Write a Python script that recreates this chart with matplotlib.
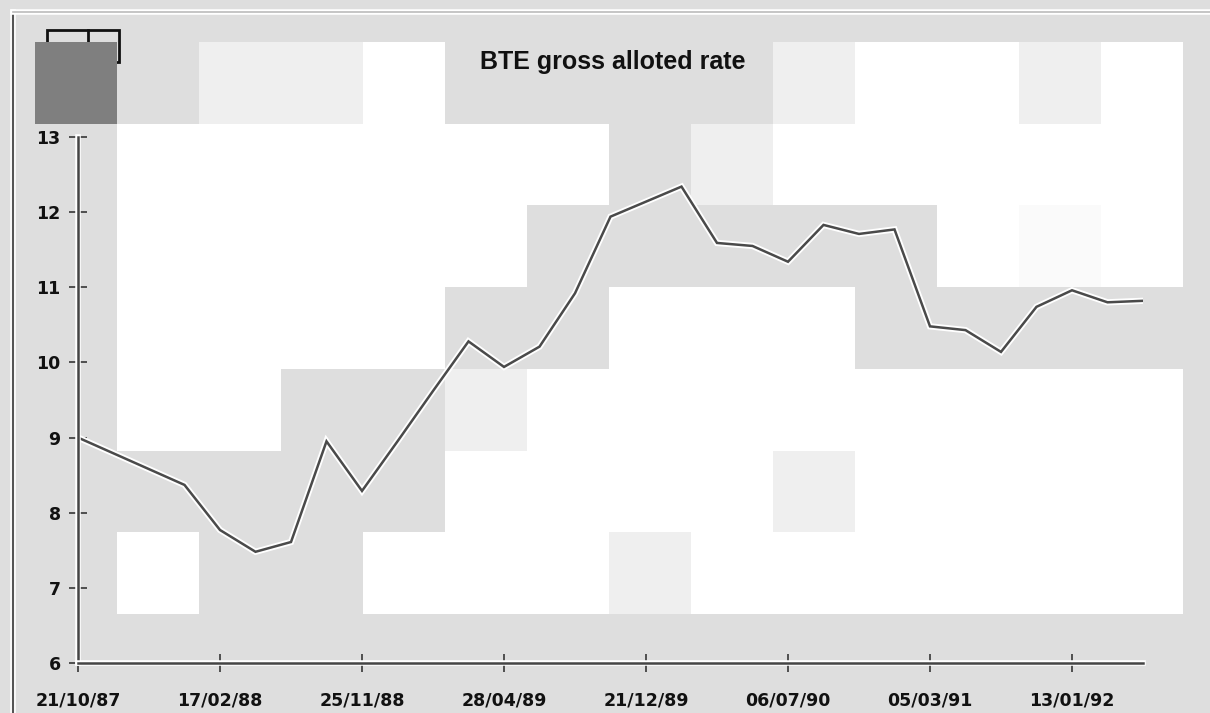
import matplotlib
matplotlib.use("Agg")
import matplotlib.pyplot as plt
import matplotlib.patheffects as pe
from matplotlib.patches import Rectangle

rates = [9.00, 8.79, 8.58, 8.37, 7.77, 7.48, 7.61, 8.95, 8.29, 8.95,
         9.62, 10.28, 9.94, 10.21, 10.92, 11.94, 12.14, 12.34, 11.59, 11.55,
         11.34, 11.83, 11.71, 11.77, 10.48, 10.43, 10.14, 10.74, 10.96, 10.80,
         10.82]
date_labels = ["21/10/87", "17/02/88", "25/11/88", "28/04/89",
               "21/12/89", "06/07/90", "05/03/91", "13/01/92"]
label_every = 4
y_ticks = [6, 7, 8, 9, 10, 11, 12, 13]
title = "BTE gross alloted rate"

# background mosaic of the scan (D dark, G gray, L light, F faint, W white)
tile_rows = ["DGLLWGGGGLWWLW",
             "GWWWWWWGLWWWWW",
             "GWWWWWGGGGGWFW",
             "GWWWWGGWWWGGGG",
             "GWWGGLWWWWWWWW",
             "GGGGGWWWWLWWWW",
             "GWGGWWWLWWWWWW"]
tile_colors = {"D": "#7f7f7f", "G": "#dedede", "L": "#efefef",
               "F": "#fafafa", "W": "#ffffff"}

W, H = 1210, 713
fig = plt.figure(figsize=(W / 100, H / 100), dpi=100)
fig.patch.set_facecolor("#dedede")

bg = fig.add_axes([0, 0, 1, 1])
bg.set_xlim(0, W)
bg.set_ylim(H, 0)
bg.axis("off")
x0, y0, tw, th = 35, 42, 82, 81.7
for r, row in enumerate(tile_rows):
    for c, ch in enumerate(row):
        bg.add_patch(Rectangle((x0 + c * tw, y0 + r * th), tw, th,
                               facecolor=tile_colors[ch], edgecolor="none",
                               zorder=2 if ch == "D" else 1))
# logo box partly hidden by the dark tile
bg.add_patch(Rectangle((47, 30), 72, 32, facecolor="none", edgecolor="#111",
                       lw=2, zorder=1.5))
bg.plot([88, 88], [30, 62], color="#111", lw=2, zorder=1.5)
# frame lines of the scan
halo = [pe.Stroke(linewidth=4, foreground="white"), pe.Normal()]
bg.plot([13, 13], [12, H], color="#555", lw=1.5, path_effects=halo)
bg.plot([13, W], [12, 12], color="#bbb", lw=1.2, path_effects=halo)

fig.text(613 / W, 1 - 62 / H, title, ha="center", va="center",
         fontsize=18, fontweight="bold", family="Liberation Sans", color="#111")

ax = fig.add_axes([78 / W, 1 - 663 / H, (1143 - 78) / W, (663 - 137) / H])
ax.patch.set_alpha(0)
xs = list(range(len(rates)))
ax.plot(xs, rates, color="#4a4a4a", lw=1.8, solid_joinstyle="miter",
        path_effects=[pe.Stroke(linewidth=4.5, foreground="white"), pe.Normal()])
ax.set_xlim(0, len(rates) - 1)
ax.set_ylim(6, 13)
for s in ["top", "right"]:
    ax.spines[s].set_visible(False)
for s in ["left", "bottom"]:
    ax.spines[s].set_color("#444")
    ax.spines[s].set_linewidth(1.8)
    ax.spines[s].set_path_effects([pe.Stroke(linewidth=4, foreground="white"),
                                   pe.Normal()])
ax.set_yticks(y_ticks)
ax.set_yticklabels([str(v) for v in y_ticks])
ax.set_xticks(xs[::label_every])
ax.set_xticklabels(date_labels)
ax.tick_params(axis="both", direction="inout", length=13, width=1.3,
               colors="#444", labelcolor="#111")
ax.tick_params(axis="y", pad=6)
ax.tick_params(axis="x", pad=14)
for lab in ax.get_xticklabels() + ax.get_yticklabels():
    lab.set_fontweight("bold")
    lab.set_fontsize(12.5)
    lab.set_family("DejaVu Sans")

fig.savefig("out.png", dpi=100)
